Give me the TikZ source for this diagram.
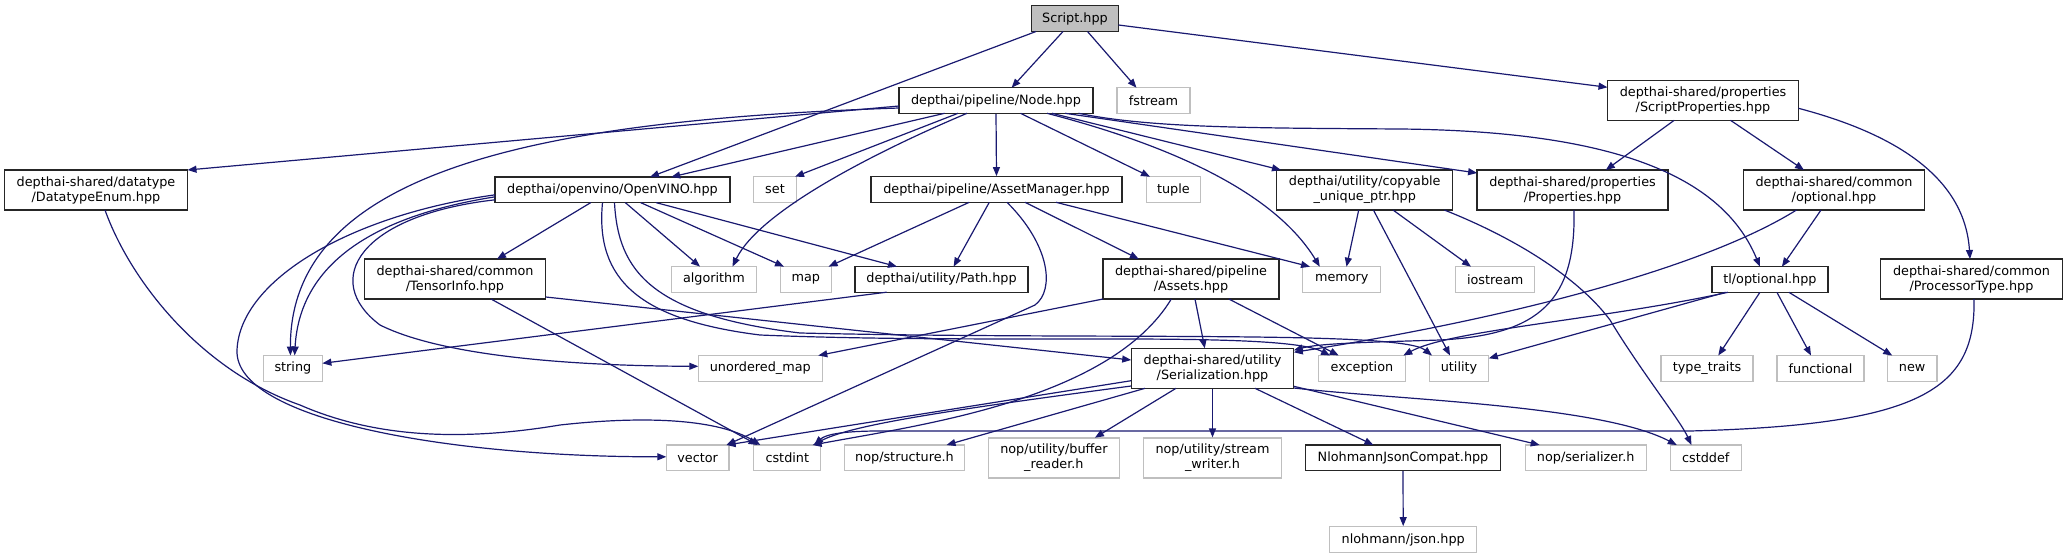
\documentclass[tikz,border=0pt]{standalone}
\usepackage{fontspec}
\setmainfont{DejaVu Sans}
\usetikzlibrary{arrows.meta}
\definecolor{edgeblue}{HTML}{191970}
\definecolor{sysgray}{HTML}{BFBFBF}
\tikzset{
  box/.style={draw, rectangle, inner sep=0pt, minimum height=25.6pt, align=center,
    font=\fontsize{12.8}{15}\selectfont, line width=1.2pt},
  proj/.style={box, draw=black!85, fill=white},
  sys/.style={box, draw=sysgray, fill=white},
  root/.style={box, draw=black!85, fill=sysgray},
  dbl/.style={minimum height=40pt},
  edge/.style={draw=edgeblue, line width=1.2pt, -{Triangle[length=9pt,width=7pt]}},
}
\begin{document}
\begin{tikzpicture}[x=1pt,y=-1pt]
\useasboundingbox (0,0) rectangle (2067,559);
% nodes
\node[root, minimum width=87pt] (script) at (1075,18.7) {Script.hpp};
\node[proj, minimum width=194pt] (node) at (996,100.5) {depthai/pipeline/Node.hpp};
\node[sys, minimum width=73pt] (fstream) at (1153.5,100.5) {fstream};
\node[proj, dbl, minimum width=191pt] (sprops) at (1703,100.3) {depthai-shared/properties\\/ScriptProperties.hpp};
\node[proj, dbl, minimum width=183pt] (dtenum) at (96,190) {depthai-shared/datatype\\/DatatypeEnum.hpp};
\node[proj, minimum width=235pt] (openvino) at (612.5,189.8) {depthai/openvino/OpenVINO.hpp};
\node[sys, minimum width=43pt] (set) at (775,189.5) {set};
\node[proj, minimum width=251pt] (assetmgr) at (996.5,189.5) {depthai/pipeline/AssetManager.hpp};
\node[sys, minimum width=54pt] (tuple) at (1173.4,189.5) {tuple};
\node[proj, dbl, minimum width=176pt] (copyable) at (1364.7,190) {depthai/utility/copyable\\\_unique\_ptr.hpp};
\node[proj, dbl, minimum width=191pt] (props) at (1572.5,190) {depthai-shared/properties\\/Properties.hpp};
\node[proj, dbl, minimum width=181.5pt] (copt) at (1834,190) {depthai-shared/common\\/optional.hpp};
\node[proj, dbl, minimum width=181.4pt] (tensor) at (455,279) {depthai-shared/common\\/TensorInfo.hpp};
\node[sys, minimum width=85pt] (algorithm) at (713.9,279.4) {algorithm};
\node[sys, minimum width=51pt] (map) at (805.8,279.4) {map};
\node[proj, minimum width=173pt] (path) at (941.5,279.4) {depthai/utility/Path.hpp};
\node[proj, dbl, minimum width=176pt] (assets) at (1191,279) {depthai-shared/pipeline\\/Assets.hpp};
\node[sys, minimum width=78pt] (memory) at (1341.8,279.5) {memory};
\node[sys, minimum width=79pt] (iostream) at (1495.2,279.5) {iostream};
\node[proj, minimum width=116pt] (tlopt) at (1769.9,279.5) {tl/optional.hpp};
\node[proj, dbl, minimum width=181.5pt] (proctype) at (1971.5,279) {depthai-shared/common\\/ProcessorType.hpp};
\node[sys, minimum width=59pt] (string) at (292.9,368.3) {string};
\node[sys, minimum width=124pt] (umap) at (760.3,368.3) {unordered\_map};
\node[proj, dbl, minimum width=162.6pt] (serial) at (1212.5,368.3) {depthai-shared/utility\\/Serialization.hpp};
\node[sys, minimum width=86.6pt] (exception) at (1361.9,368.3) {exception};
\node[sys, minimum width=59.6pt] (utility) at (1459,368.3) {utility};
\node[sys, minimum width=92pt] (typetraits) at (1707,368.3) {type\_traits};
\node[sys, minimum width=87pt] (functional) at (1820.5,368.3) {functional};
\node[sys, minimum width=49.4pt] (new) at (1912.2,368.3) {new};
\node[sys, minimum width=62.6pt] (vector) at (697.6,457.8) {vector};
\node[sys, minimum width=67pt] (cstdint) at (787.3,457.8) {cstdint};
\node[sys, minimum width=119.6pt] (nopstruct) at (904.5,457.8) {nop/structure.h};
\node[sys, dbl, minimum width=130.6pt] (bufreader) at (1053.9,458) {nop/utility/buffer\\\_reader.h};
\node[sys, dbl, minimum width=138.7pt] (streamwriter) at (1212.5,458) {nop/utility/stream\\\_writer.h};
\node[proj, minimum width=195pt] (njc) at (1403,457.8) {NlohmannJsonCompat.hpp};
\node[sys, minimum width=121pt] (nopser) at (1585.7,457.8) {nop/serializer.h};
\node[sys, minimum width=71pt] (cstddef) at (1705.8,457.8) {cstddef};
\node[sys, minimum width=146.8pt] (json) at (1403.2,539.5) {nlohmann/json.hpp};

% Script.hpp
\draw[edge] ([shift={(-39,12.8)}]script.center) -- ([shift={(37.5,-12.8)}]openvino.center);
\draw[edge] ([shift={(-12,12.8)}]script.center) -- ([shift={(15.6,-12.8)}]node.center);
\draw[edge] ([shift={(12.5,12.8)}]script.center) -- ([shift={(-17,-12.8)}]fstream.center);
\draw[edge] ([shift={(43.5,6.3)}]script.center) -- ([shift={(-95.5,-13)}]sprops.center);
% Node.hpp
\draw[edge] ([shift={(-97,5.5)}]node.center) -- ([shift={(91.5,-20)}]dtenum.center);
\draw[edge] ([shift={(-97,7.5)}]node.center) .. controls (540,120) and (290,170) .. ([shift={(-2.5,-12.8)}]string.center);
\draw[edge] ([shift={(-51.4,12.8)}]node.center) -- ([shift={(58.7,-12.8)}]openvino.center);
\draw[edge] ([shift={(-38,12.8)}]node.center) -- ([shift={(20,-12.8)}]set.center);
\draw[edge] ([shift={(-29,12.8)}]node.center) .. controls (880,150) and (760,210) .. ([shift={(18.6,-12.8)}]algorithm.center);
\draw[edge] (node.south) -- (assetmgr.north);
\draw[edge] ([shift={(24.5,12.8)}]node.center) -- ([shift={(-23.4,-12.8)}]tuple.center);
\draw[edge] ([shift={(51,12.8)}]node.center) .. controls (1150,140) and (1270,185) .. ([shift={(-22,-12.8)}]memory.center);
\draw[edge] ([shift={(56,12.8)}]node.center) -- ([shift={(-83.7,-20)}]copyable.center);
\draw[edge] ([shift={(69,12.8)}]node.center) -- ([shift={(-95.4,-17)}]props.center);
\draw[edge] ([shift={(82.6,12.8)}]node.center) .. controls (1150,128) and (1250,128) .. (1400,129)
   .. controls (1600,131) and (1720,170) .. ([shift={(-10,-12.8)}]tlopt.center);
% OpenVINO.hpp
\draw[edge] ([shift={(-21.7,12.8)}]openvino.center) -- ([shift={(42,-20)}]tensor.center);
\draw[edge] ([shift={(12.8,12.8)}]openvino.center) -- ([shift={(-13.9,-12.8)}]algorithm.center);
\draw[edge] ([shift={(28.1,12.8)}]openvino.center) -- ([shift={(-21.8,-12.8)}]map.center);
\draw[edge] ([shift={(43.5,12.8)}]openvino.center) -- ([shift={(-44.5,-12.8)}]path.center);
\draw[edge] ([shift={(-117.3,7)}]openvino.center) .. controls (380,215) and (300,260) .. ([shift={(1.7,-12.8)}]string.center);
\draw[edge] ([shift={(-117.3,5)}]openvino.center) .. controls (350,215) and (240,280) .. (237,350)
   .. controls (234,420) and (450,457) .. ([shift={(-31.3,-1)}]vector.center);
\draw[edge] ([shift={(-117.3,10)}]openvino.center) .. controls (360,215) and (320,280) .. (380,325)
   .. controls (450,360) and (600,366) .. ([shift={(-62,-2)}]umap.center);
\draw[edge] ([shift={(-10,12.8)}]openvino.center) .. controls (595,280) and (640,320) .. (760,335)
   .. controls (1000,345) and (1280,330) .. ([shift={(-31.9,-12.8)}]exception.center);
\draw[edge] ([shift={(2,12.8)}]openvino.center) .. controls (618,270) and (650,315) .. (800,333)
   .. controls (1100,340) and (1400,330) .. ([shift={(-27,-12.8)}]utility.center);
% TensorInfo, DatatypeEnum, Path
\draw[edge] ([shift={(90.7,18)}]tensor.center) -- ([shift={(-81.3,-8.3)}]serial.center);
\draw[edge] ([shift={(36,20)}]tensor.center) -- ([shift={(-29.7,-12.8)}]cstdint.center);
\draw[edge] ([shift={(9,20)}]dtenum.center) .. controls (130,280) and (200,370) .. (300,405)
   .. controls (380,440) and (470,440) .. (560,425) .. controls (650,415) and (720,420) .. ([shift={(-27,-12.8)}]cstdint.center);
\draw[edge] ([shift={(-54.8,12.8)}]path.center) -- ([shift={(29.5,-5)}]string.center);
% AssetManager.hpp
\draw[edge] ([shift={(-27.3,12.8)}]assetmgr.center) -- ([shift={(22.8,-12.8)}]map.center);
\draw[edge] ([shift={(-7.2,12.8)}]assetmgr.center) -- ([shift={(12.1,-12.8)}]path.center);
\draw[edge] ([shift={(10.5,12.8)}]assetmgr.center) .. controls (1050,245) and (1055,290) .. (1035,305)
   -- ([shift={(28.9,-12.8)}]vector.center);
\draw[edge] ([shift={(28.5,12.8)}]assetmgr.center) -- ([shift={(-52.2,-20)}]assets.center);
\draw[edge] ([shift={(59.5,12.8)}]assetmgr.center) -- ([shift={(-31.8,-12.8)}]memory.center);
% Assets.hpp
\draw[edge] ([shift={(-88,20)}]assets.center) -- ([shift={(58,-12.8)}]umap.center);
\draw[edge] ([shift={(-19.7,20)}]assets.center) .. controls (1110,400) and (920,425) .. ([shift={(25.3,-12.8)}]cstdint.center);
\draw[edge] ([shift={(4,20)}]assets.center) -- ([shift={(-7.7,-20)}]serial.center);
\draw[edge] ([shift={(37.8,20)}]assets.center) -- ([shift={(-23.2,-12.8)}]exception.center);
% copyable_unique_ptr.hpp
\draw[edge] ([shift={(-6,20)}]copyable.center) -- ([shift={(4.7,-12.8)}]memory.center);
\draw[edge] ([shift={(8.7,20)}]copyable.center) -- ([shift={(-9,-12.8)}]utility.center);
\draw[edge] ([shift={(28.3,20)}]copyable.center) -- ([shift={(-24.2,-12.8)}]iostream.center);
\draw[edge] ([shift={(79.6,20)}]copyable.center) .. controls (1520,240) and (1580,280) .. (1610,320)
   .. controls (1640,370) and (1680,420) .. ([shift={(-14.4,-12.8)}]cstddef.center);
% Properties, optional, ScriptProperties
\draw[edge] ([shift={(1.5,20)}]props.center) .. controls (1576,300) and (1540,335) .. (1440,340)
   .. controls (1380,342) and (1320,343) .. ([shift={(81.3,-18)}]serial.center);
\draw[edge] ([shift={(-37.5,20)}]copt.center) .. controls (1700,270) and (1500,320) .. ([shift={(81.3,-16)}]serial.center);
\draw[edge] ([shift={(-13,20)}]copt.center) -- ([shift={(12,-12.8)}]tlopt.center);
\draw[edge] ([shift={(-28.8,20)}]sprops.center) -- ([shift={(33.3,-20)}]props.center);
\draw[edge] ([shift={(27.5,20)}]sprops.center) -- ([shift={(-30,-20)}]copt.center);
\draw[edge] ([shift={(95.5,8)}]sprops.center) .. controls (1900,135) and (1965,180) .. ([shift={(-1.5,-20)}]proctype.center);
% tl/optional.hpp
\draw[edge] ([shift={(-42,12.8)}]tlopt.center) .. controls (1600,320) and (1450,330) .. ([shift={(41.4,-12.8)}]exception.center);
\draw[edge] ([shift={(-44.3,12.8)}]tlopt.center) -- ([shift={(29.8,-10)}]utility.center);
\draw[edge] ([shift={(-10,12.8)}]tlopt.center) -- ([shift={(11.3,-12.8)}]typetraits.center);
\draw[edge] ([shift={(7,12.8)}]tlopt.center) -- ([shift={(-9.5,-12.8)}]functional.center);
\draw[edge] ([shift={(19,12.8)}]tlopt.center) -- ([shift={(-20,-12.8)}]new.center);
% ProcessorType.hpp
\draw[edge] ([shift={(2.5,20)}]proctype.center) .. controls (1976,390) and (1920,425) .. (1690,431)
   -- (880,431) .. controls (840,431) and (825,435) .. ([shift={(27,-12.8)}]cstdint.center);
% Serialization.hpp
\draw[edge] ([shift={(-81.3,12.4)}]serial.center) -- ([shift={(29,-12.8)}]vector.center);
\draw[edge] ([shift={(-81.3,17.7)}]serial.center) .. controls (950,410) and (850,425) .. ([shift={(26,-12.8)}]cstdint.center);
\draw[edge] ([shift={(-67.5,20)}]serial.center) -- ([shift={(42,-12.8)}]nopstruct.center);
\draw[edge] ([shift={(-36.5,20)}]serial.center) -- ([shift={(41,-20.3)}]bufreader.center);
\draw[edge] (serial.south) -- (streamwriter.north);
\draw[edge] ([shift={(42.5,20)}]serial.center) -- ([shift={(-29.6,-12.8)}]njc.center);
\draw[edge] ([shift={(81.3,18)}]serial.center) -- ([shift={(-46,-12.8)}]nopser.center);
\draw[edge] ([shift={(81.3,19.7)}]serial.center) .. controls (1400,400) and (1600,405) .. ([shift={(-29,-12.8)}]cstddef.center);
% NlohmannJsonCompat.hpp
\draw[edge] (njc.south) -- (json.north);
\end{tikzpicture}
\end{document}
